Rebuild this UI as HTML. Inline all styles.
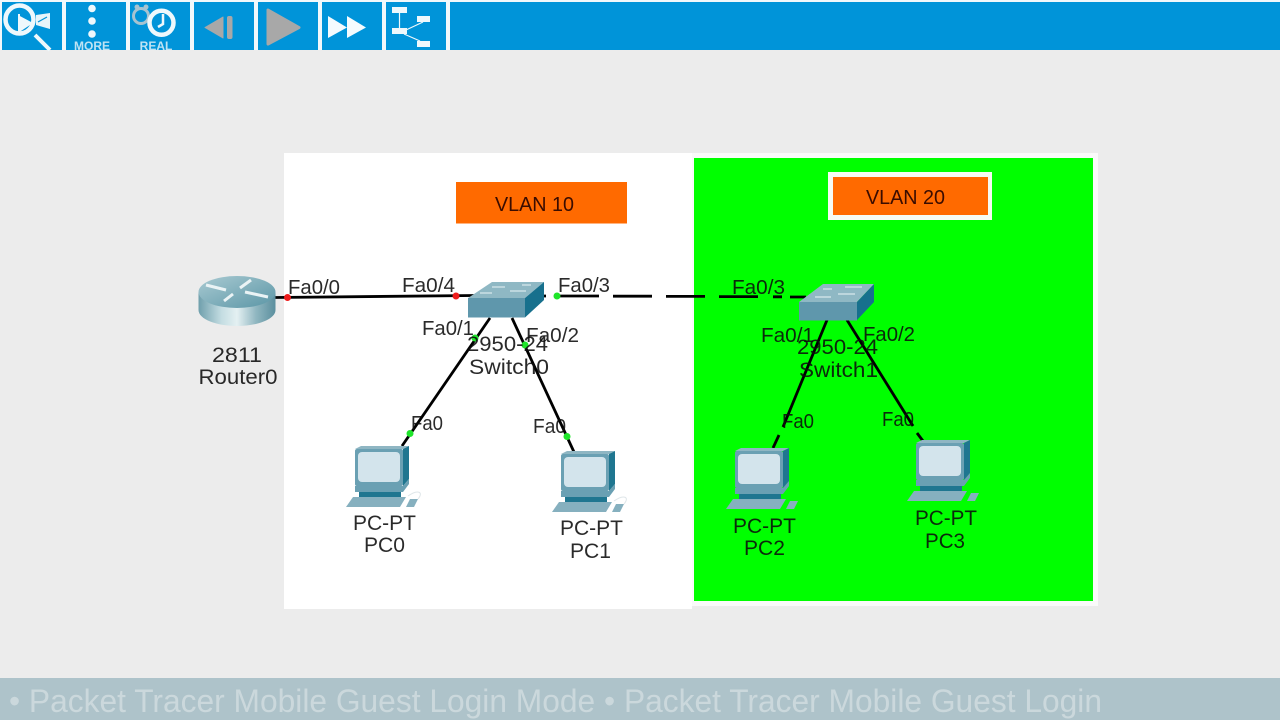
<!DOCTYPE html>
<html><head><meta charset="utf-8"><style>
html,body{margin:0;padding:0;background:#ececec;width:1280px;height:720px;overflow:hidden}
svg{display:block}
text{font-family:"Liberation Sans",sans-serif}
.l{font-size:20px;fill:#0c0c0c;fill-opacity:.88}
.n{font-size:21px;fill:#0c0c0c;fill-opacity:.88;text-anchor:start}
</style></head><body>
<svg width="1280" height="720" viewBox="0 0 1280 720" xmlns="http://www.w3.org/2000/svg">
<defs>
<linearGradient id="rb" x1="0" x2="1" y1="0" y2="0">
<stop offset="0" stop-color="#6f9fac"/><stop offset=".3" stop-color="#c4dde2"/><stop offset=".5" stop-color="#e4f0f2"/><stop offset=".75" stop-color="#8fb6c0"/><stop offset="1" stop-color="#5b8f9e"/></linearGradient>
<linearGradient id="rt" x1="0" x2="1" y1="0" y2="1">
<stop offset="0" stop-color="#a9cad2"/><stop offset="1" stop-color="#5b96a6"/></linearGradient>
<g id="pc">
<path d="M9 3L15 0H63L57 3Z" fill="#8fb6c3"/>
<path d="M57 3L63 0V33L57 40Z" fill="#1f7690"/>
<rect x="9" y="3" width="48" height="37" rx="2" fill="#6aa0b3"/>
<rect x="12" y="6" width="42" height="30" rx="4" fill="#d3e4ec"/>
<path d="M9 40H57L63 33V38L57 46H9Z" fill="#6aa0b3"/>
<path d="M13 46H55V51H13Z" fill="#1f7690"/>
<path d="M7 51H60L54 61H0Z" fill="#86b0bf"/>
<path d="M64 53H72L68 61H60Z" fill="#86b0bf"/>
</g>
</defs>

<rect width="1280" height="720" fill="#ececec"/>
<!-- toolbar -->
<rect width="1280" height="50" fill="#f1f8fb"/>
<g fill="#0094d9">
<rect x="2" y="2" width="60" height="48"/><rect x="66" y="2" width="60" height="48"/><rect x="130" y="2" width="60" height="48"/><rect x="194" y="2" width="60" height="48"/><rect x="258" y="2" width="60" height="48"/><rect x="322" y="2" width="60" height="48"/><rect x="386" y="2" width="60" height="48"/><rect x="450" y="2" width="830" height="48"/>
</g>
<!-- magnifier -->
<path d="M36 15L50 13V29L36 25Z" fill="#e8f5fa"/>
<path d="M38 22L47 17" stroke="#0094d9" stroke-width="1.200"/>
<circle cx="19.500" cy="19.500" r="14" fill="#0094d9" stroke="#eef8fc" stroke-width="4.500"/>
<path d="M18 15L33 23L18 33Z" fill="#eef8fc"/>
<path d="M19 14V33" stroke="#eef8fc" stroke-width="2"/>
<path d="M35 35L50 50" stroke="#eef8fc" stroke-width="4"/>
<!-- more -->
<g fill="#eef8fc"><circle cx="92" cy="8.500" r="3.800"/><circle cx="92" cy="21" r="3.800"/><circle cx="92" cy="34" r="3.800"/></g>
<text x="92" y="50" text-anchor="middle" font-size="12" font-weight="700" fill="#bfe3f3">MORE</text>
<!-- real -->
<circle cx="141" cy="16" r="7.500" fill="none" stroke="#a7c3d0" stroke-width="3"/>
<circle cx="137" cy="7" r="2.500" fill="#a7c3d0"/><circle cx="146" cy="7" r="2.500" fill="#a7c3d0"/>
<circle cx="161.500" cy="22.800" r="12" fill="#0094d9" stroke="#eef8fc" stroke-width="4.500"/>
<path d="M163 14V24L158 27" fill="none" stroke="#eef8fc" stroke-width="2.500"/>
<text x="156" y="50" text-anchor="middle" font-size="12" font-weight="700" fill="#bfe3f3">REAL</text>
<!-- back -->
<path d="M205 27.500L223 17V38Z" fill="#a8a8a8" stroke="#a8a8a8" stroke-width="1" stroke-linejoin="round"/>
<rect x="227" y="16" width="5.500" height="23" rx="2" fill="#a8a8a8"/>
<!-- play -->
<path d="M268 10L299 27.500L268 44Z" fill="#a8a8a8" stroke="#a8a8a8" stroke-width="3" stroke-linejoin="round"/>
<!-- ff -->
<path d="M328 16L347 27.500L328 38Z" fill="#f4fbfe"/><path d="M347 16L366 27.500L347 38Z" fill="#f4fbfe"/>
<!-- tree -->
<g fill="#eef8fc"><rect x="392" y="7" width="15" height="6"/><rect x="392" y="28" width="15" height="6"/><rect x="417" y="16" width="13" height="6"/><rect x="417" y="41" width="13" height="6"/></g>
<g stroke="#eef8fc" stroke-width="1.200" fill="none"><path d="M399.500 13V28"/><path d="M406 30L423 22"/><path d="M404 34L420 41"/></g>

<!-- panels -->
<rect x="284" y="153" width="408" height="456" fill="#fff"/>
<rect x="692" y="153" width="406" height="453" fill="#fafafa"/>
<rect x="694" y="158" width="399" height="443" fill="#00ff00"/>
<rect x="456" y="182" width="171" height="41.500" fill="#ff6a00"/>
<text x="495" y="211" font-size="20" fill="#3a0c00" textLength="79" lengthAdjust="spacingAndGlyphs">VLAN 10</text>
<rect x="828" y="172" width="164" height="48" fill="#f6fbf4"/>
<rect x="833" y="177" width="155" height="38" fill="#ff6a00"/>
<text x="866" y="204" font-size="20" fill="#3a0c00" textLength="79" lengthAdjust="spacingAndGlyphs">VLAN 20</text>

<!-- links -->
<g stroke="#000" stroke-width="2.800" fill="none">
<path d="M275 297.500L474 295.500"/>
<path d="M540 296H546"/>
<path d="M559 296H599M613 296.200H652M666 296.400H705M719 296.600H758M773 296.800H782M790 297H806"/>
<path d="M490 318L402 446"/>
<path d="M512 318L574 452"/>
<path d="M827 320L783 427M779 435L773 448"/>
<path d="M847 320L913 426M917 433L923 441"/>
</g>

<!-- router -->
<path d="M198.500 292V310C198.500 319 216 326 237 326S275.500 319 275.500 310V292Z" fill="url(#rb)"/>
<ellipse cx="237" cy="292" rx="38.500" ry="16" fill="url(#rt)"/>
<g stroke="#eaf3f5" stroke-width="3" fill="none"><path d="M206 285L226 290"/><path d="M240 288L251 280"/><path d="M245 292L268 297"/><path d="M224 301L233 294"/></g>

<!-- switch0 -->
<path d="M468 298L492 282H544L525 298Z" fill="#8fb8c4"/>
<path d="M525 298L544 282V300L525 317.500Z" fill="#17708d"/>
<rect x="468" y="298" width="57" height="19.500" fill="#5f97ac"/>
<g stroke="#d8e8ec" stroke-width="1.200"><path d="M492 287H505M480 293H492M510 291H526M522 285H531"/></g>
<!-- switch1 -->
<path d="M799 302L823 284H874L857 302Z" fill="#8fb8c4"/>
<path d="M857 302L874 284V302L857 320Z" fill="#17708d"/>
<rect x="799" y="302" width="58" height="18.500" fill="#5f97ac"/>
<g stroke="#d8e8ec" stroke-width="1.200"><path d="M823 289H832M845 287H862M815 297H831M838 294H855"/></g>

<!-- PCs -->
<use href="#pc" x="346" y="446"/>
<use href="#pc" x="552" y="451"/>
<use href="#pc" x="726" y="448"/>
<use href="#pc" x="907" y="440"/>
<g fill="none" stroke="#dfe6e9" stroke-width="1"><path d="M408 496C418 489 424 492 418 499"/><path d="M614 501C624 494 630 497 624 504"/></g>

<!-- dots -->
<g fill="#ee1c1c"><circle cx="287.500" cy="297.500" r="3.500"/><circle cx="456" cy="296" r="3.500"/></g>
<g fill="#1fe52a"><circle cx="557" cy="296" r="3.500"/><circle cx="475" cy="338" r="3.500"/><circle cx="525" cy="345" r="3.500"/><circle cx="410" cy="433.500" r="3.500"/><circle cx="567" cy="436.500" r="3.500"/></g>

<!-- port labels -->
<text class="l" x="288" y="294" textLength="52" lengthAdjust="spacingAndGlyphs">Fa0/0</text>
<text class="l" x="402" y="292" textLength="53" lengthAdjust="spacingAndGlyphs">Fa0/4</text>
<text class="l" x="558" y="292" textLength="52" lengthAdjust="spacingAndGlyphs">Fa0/3</text>
<text class="l" x="422" y="335" textLength="52" lengthAdjust="spacingAndGlyphs">Fa0/1</text>
<text class="l" x="526" y="342" textLength="53" lengthAdjust="spacingAndGlyphs">Fa0/2</text>
<text class="l" x="411" y="430" textLength="32" lengthAdjust="spacingAndGlyphs">Fa0</text>
<text class="l" x="533" y="433" textLength="33" lengthAdjust="spacingAndGlyphs">Fa0</text>
<text class="l" x="732" y="294" textLength="53" lengthAdjust="spacingAndGlyphs">Fa0/3</text>
<text class="l" x="761" y="342" textLength="53" lengthAdjust="spacingAndGlyphs">Fa0/1</text>
<text class="l" x="863" y="341" textLength="52" lengthAdjust="spacingAndGlyphs">Fa0/2</text>
<text class="l" x="782" y="428" textLength="32" lengthAdjust="spacingAndGlyphs">Fa0</text>
<text class="l" x="882" y="426" textLength="32" lengthAdjust="spacingAndGlyphs">Fa0</text>

<!-- device labels -->
<text class="n" x="212" y="362" textLength="50" lengthAdjust="spacingAndGlyphs">2811</text>
<text class="n" x="198.500" y="384" textLength="79" lengthAdjust="spacingAndGlyphs">Router0</text>
<text class="n" x="467" y="351" textLength="81" lengthAdjust="spacingAndGlyphs">2950-24</text>
<text class="n" x="469" y="374" textLength="80" lengthAdjust="spacingAndGlyphs">Switch0</text>
<text class="n" x="797" y="354" textLength="81" lengthAdjust="spacingAndGlyphs">2950-24</text>
<text class="n" x="799" y="377" textLength="79" lengthAdjust="spacingAndGlyphs">Switch1</text>
<text class="n" x="353" y="530" textLength="63" lengthAdjust="spacingAndGlyphs">PC-PT</text>
<text class="n" x="364" y="552" textLength="41" lengthAdjust="spacingAndGlyphs">PC0</text>
<text class="n" x="560" y="535" textLength="63" lengthAdjust="spacingAndGlyphs">PC-PT</text>
<text class="n" x="570" y="558" textLength="41" lengthAdjust="spacingAndGlyphs">PC1</text>
<text class="n" x="733" y="533" textLength="63" lengthAdjust="spacingAndGlyphs">PC-PT</text>
<text class="n" x="744" y="555" textLength="41" lengthAdjust="spacingAndGlyphs">PC2</text>
<text class="n" x="915" y="525" textLength="62" lengthAdjust="spacingAndGlyphs">PC-PT</text>
<text class="n" x="925" y="548" textLength="40" lengthAdjust="spacingAndGlyphs">PC3</text>

<!-- footer -->
<rect x="0" y="678" width="1280" height="42" fill="#aec3ca"/>
<text x="9" y="712" font-size="32" fill="#cbd8dc" textLength="1093" lengthAdjust="spacingAndGlyphs">• Packet Tracer Mobile Guest Login Mode • Packet Tracer Mobile Guest Login</text>
</svg>
</body></html>
